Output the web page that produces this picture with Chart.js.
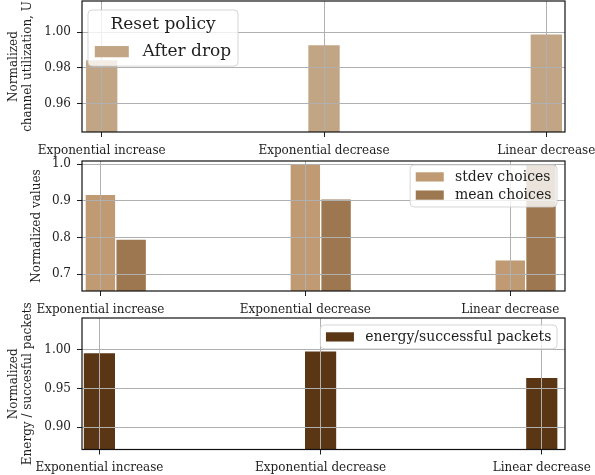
<!DOCTYPE html>
<html>
<head>
<meta charset="utf-8">
<script src="https://cdn.jsdelivr.net/npm/chart.js@4.4.1/dist/chart.umd.min.js"></script>
<style>
  html, body { margin: 0; padding: 0; background: #fff; }
  #wrap { position: relative; width: 595px; height: 475px; overflow: hidden; background: #fff; }
  #wrap canvas { position: absolute; left: 0; top: 0; }
</style>
</head>
<body>
<div id="wrap">
  <canvas id="util" width="595" height="485"></canvas>
  <canvas id="choices" width="595" height="485"></canvas>
  <canvas id="energy" width="595" height="485"></canvas>
</div>
<script>
// Reset policies compared in every panel
const categories = ['Exponential increase', 'Exponential decrease', 'Linear decrease'];
const categoryPos = [0, 1, 2];

// Panel 1: normalized channel utilization after a drop
const afterDrop = [0.9848, 0.9932, 0.9993];
// Panel 2: normalized spread and mean of the choices
const stdevChoices = [0.918, 1.0, 0.739];
const meanChoices = [0.7956, 0.906, 1.0];
// Panel 3: normalized energy per successful packet
const energyPerPacket = [0.9965, 0.9987, 0.9647];

// Y tick values per panel
const utilTicks = [0.96, 0.98, 1.00];
const valueTicks = [0.7, 0.8, 0.9, 1.0];
const energyTicks = [0.90, 0.95, 1.00];

const FONT = '"DejaVu Serif", serif';
const INK = '#1e1e1e';
const GRID = '#b0b0b0';
const BAR_WIDTH = 0.15;   // bar width in category units
const CANVAS_H = 485;

function points(values, shift) {
  return categoryPos.map((x, i) => ({ x: x + (shift || 0), y: values[i] }));
}

function xAxis(min, max) {
  return {
    type: 'linear', min, max, offset: false,
    afterBuildTicks: s => { s.ticks = categoryPos.map(v => ({ value: v })); },
    afterFit: s => { s.height = 30; s.paddingLeft = 0; s.paddingRight = 0; },
    ticks: {
      callback: v => categories[v],
      font: { family: FONT, size: 12 }, color: INK,
      padding: 6.5, maxRotation: 0, autoSkip: false
    },
    grid: { offset: false, color: GRID, lineWidth: 1, z: 1, tickColor: INK, tickLength: 5, tickWidth: 1 },
    border: { display: false }
  };
}

function yAxis(min, max, tickValues, digits, titleText, titlePad) {
  return {
    type: 'linear', min, max,
    afterBuildTicks: s => { s.ticks = tickValues.map(v => ({ value: v })); },
    afterFit: s => { s.width = 82; s.paddingTop = 0; s.paddingBottom = 0; },
    ticks: {
      callback: v => Number(v).toFixed(digits),
      font: { family: FONT, size: 12 }, color: INK, padding: 6
    },
    grid: { color: GRID, lineWidth: 1, z: 1, tickColor: INK, tickLength: 5, tickWidth: 1 },
    border: { display: false },
    title: {
      display: true, text: titleText, color: INK,
      font: { family: FONT, size: 12, lineHeight: 1.17 },
      padding: { top: titlePad, bottom: 0 }
    }
  };
}

// Black frame around each plot area
const framePlugin = {
  id: 'frame',
  afterDraw(chart) {
    const { ctx, chartArea: a } = chart;
    ctx.save();
    ctx.strokeStyle = '#111';
    ctx.lineWidth = 1.2;
    ctx.strokeRect(a.left, a.top, a.right - a.left, a.bottom - a.top);
    ctx.restore();
  }
};

function roundRect(ctx, x, y, w, h, r) {
  ctx.beginPath();
  ctx.moveTo(x + r, y);
  ctx.lineTo(x + w - r, y);
  ctx.arcTo(x + w, y, x + w, y + r, r);
  ctx.lineTo(x + w, y + h - r);
  ctx.arcTo(x + w, y + h, x + w - r, y + h, r);
  ctx.lineTo(x + r, y + h);
  ctx.arcTo(x, y + h, x, y + h - r, r);
  ctx.lineTo(x, y + r);
  ctx.arcTo(x, y, x + r, y, r);
  ctx.closePath();
}

// Legend box drawn inside the plot area, on top of the bars
function boxLegend(cfg) {
  return {
    id: 'boxLegend',
    afterDraw(chart) {
      const { ctx, chartArea: a } = chart;
      const items = chart.data.datasets.map(d => ({ label: d.label, color: d.backgroundColor }));
      const f = cfg.fontSize, pad = 0.4 * f, hl = 2 * f, hp = 0.8 * f, th = 0.9 * f, pitch = 1.3 * f;
      const titleH = cfg.title ? 1.6 * f : 0;
      ctx.save();
      ctx.font = f + 'px ' + FONT;
      const textW = Math.max(...items.map(it => ctx.measureText(it.label).width));
      let w = 2 * pad + hl + hp + textW;
      if (cfg.title) w = Math.max(w, ctx.measureText(cfg.title).width + 2 * pad);
      const h = 2 * pad + titleH + th + (items.length - 1) * pitch;
      const x = cfg.anchor === 'left' ? a.left + cfg.dx : a.right - cfg.dx - w;
      const y = a.top + cfg.dy;
      roundRect(ctx, x, y, w, h, 4);
      ctx.fillStyle = 'rgba(255,255,255,0.8)';
      ctx.fill();
      ctx.strokeStyle = 'rgba(204,204,204,0.8)';
      ctx.lineWidth = 1;
      ctx.stroke();
      ctx.textBaseline = 'middle';
      if (cfg.title) {
        ctx.fillStyle = INK;
        ctx.textAlign = 'center';
        ctx.fillText(cfg.title, x + w / 2, y + pad + th / 2);
      }
      ctx.textAlign = 'left';
      items.forEach((it, i) => {
        const cy = y + pad + titleH + th / 2 + i * pitch;
        ctx.fillStyle = it.color;
        ctx.fillRect(x + pad, cy - 0.33 * f, hl, 0.66 * f);
        ctx.fillStyle = INK;
        ctx.fillText(it.label, x + pad + hl + hp, cy);
      });
      ctx.restore();
    }
  };
}

function barSet(label, values, color, shift, barPct) {
  return {
    label, data: points(values, shift),
    backgroundColor: color, borderColor: '#ffffff', borderWidth: 1,
    grouped: false, categoryPercentage: 1, barPercentage: barPct
  };
}

// Plot area edges: top and bottom in canvas pixels, x axis box is 30px tall
function common(top, bottom, x, y) {
  return {
    responsive: false, animation: false, devicePixelRatio: 1,
    layout: { padding: { left: 0, right: 30, top, bottom: CANVAS_H - bottom - 30 } },
    plugins: { legend: { display: false }, tooltip: { enabled: false } },
    scales: { x, y }
  };
}

new Chart(document.getElementById('util'), {
  type: 'bar',
  data: { datasets: [barSet('After drop', afterDrop, '#c2a584', 0, BAR_WIDTH)] },
  options: common(1, 132,
    xAxis(-0.0886, 2.084),
    yAxis(0.944, 1.0175, utilTicks, 2, ['Normalized', 'channel utilization, U'], 7)),
  plugins: [framePlugin, boxLegend({ title: 'Reset policy', fontSize: 17, anchor: 'left', dx: 6, dy: 9 })]
});

new Chart(document.getElementById('choices'), {
  type: 'bar',
  data: { datasets: [
    barSet('stdev choices', stdevChoices, '#bf9a72', 0, 1),
    barSet('mean choices', meanChoices, '#9c774f', BAR_WIDTH, 1)
  ] },
  options: common(161, 291,
    xAxis(-0.0898, 2.267),
    yAxis(0.654, 1.009, valueTicks, 1, 'Normalized values', 29.5)),
  plugins: [framePlugin, boxLegend({ fontSize: 14, anchor: 'right', dx: 8, dy: 4 })]
});

new Chart(document.getElementById('energy'), {
  type: 'bar',
  data: { datasets: [barSet('energy/successful packets', energyPerPacket, '#5a3615', 0, BAR_WIDTH)] },
  options: common(318, 449.5,
    xAxis(-0.0787, 2.105),
    yAxis(0.8713, 1.0407, energyTicks, 2, ['Normalized', 'Energy / succesful packets'], 7)),
  plugins: [framePlugin, boxLegend({ fontSize: 14, anchor: 'right', dx: 8, dy: 7 })]
});
</script>
</body>
</html>
